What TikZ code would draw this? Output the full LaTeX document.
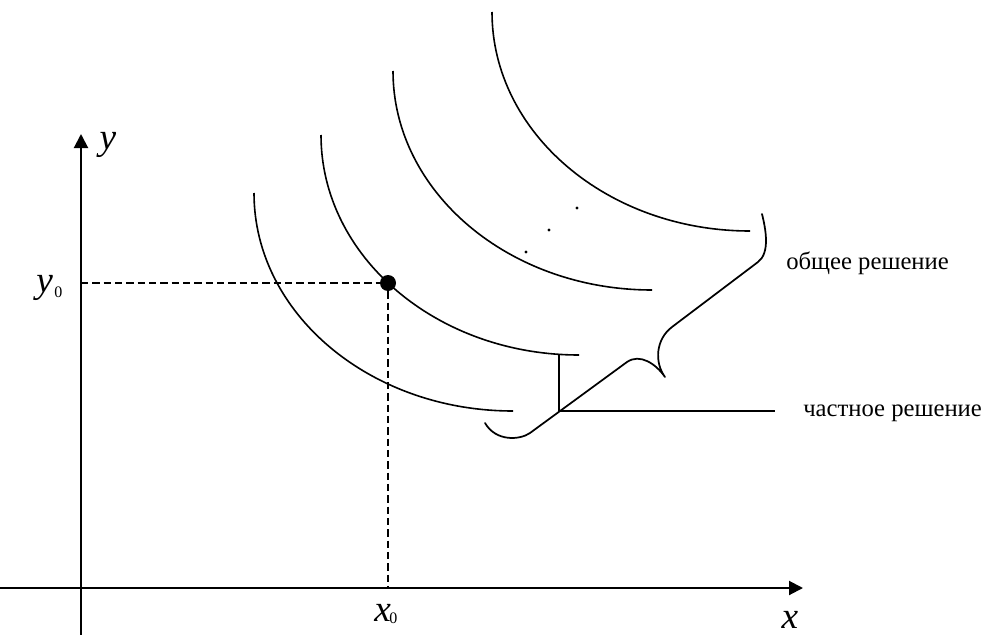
\documentclass[tikz,border=0pt]{standalone}
\usepackage{fontspec}
\setmainfont{Liberation Serif}
\usetikzlibrary{arrows.meta}
\begin{document}
\begin{tikzpicture}[x=0.75pt,y=-0.75pt,
  axis/.style={line width=1.5pt,-{Triangle[length=10.5pt,width=10.5pt]}},
  curve/.style={line width=1.2pt},
  guide/.style={line width=1.2pt,dash pattern=on 5.5pt off 3pt},
  lbl/.style={inner sep=0pt,font=\fontsize{18.5}{22}\selectfont},
  mlbl/.style={inner sep=0pt,font=\fontsize{28}{32}\selectfont\itshape},
  sub/.style={inner sep=0pt,font=\fontsize{12}{14}\selectfont},
  brace/.style={line width=1.3pt,line join=round,line cap=round},
]
\useasboundingbox (0,0) rectangle (982,635);
% axes
\coordinate (yb) at (81,635);
\coordinate (yt) at (81,134);
\coordinate (xl) at (0,588);
\coordinate (xr) at (803,588);
\draw[axis] (yb) -- (yt);
\draw[axis] (xl) -- (xr);
% family of curves
\draw[curve] (254,193) arc[start angle=180,end angle=90,x radius=259,y radius=218];
\draw[curve] (321,135) arc[start angle=180,end angle=90,x radius=258,y radius=220];
\draw[curve] (393,71) arc[start angle=180,end angle=90,x radius=259,y radius=219];
\draw[curve] (492,12) arc[start angle=180,end angle=90,x radius=258,y radius=219];
% ellipsis dots
\fill (526,252) circle[radius=1.6];
\fill (549,230) circle[radius=1.6];
\fill (577,208) circle[radius=1.6];
% point (x0,y0)
\node[circle,fill,inner sep=0pt,minimum size=12pt] (P) at (388,283) {};
\coordinate (y0pt) at (81,283);
\coordinate (x0pt) at (388,588);
\draw[guide] (y0pt) -- (P);
\draw[guide] (P) -- (x0pt);
% leader for particular solution
\coordinate (Tt) at (559,354);
\coordinate (T) at (559,411);
\coordinate (Le) at (775,411);
\draw[curve] (Tt) -- (T) -- (Le);
% brace
\draw[brace] (762,214) .. controls (766,230) and (770,253) .. (758,262)
  -- (672,327) .. controls (656,339) and (654,362) .. (665,377)
  .. controls (656,364) and (640,353) .. (627,362)
  -- (530,433) .. controls (520,440) and (496,442) .. (485,423);
% labels
\node[lbl,anchor=base west] (gen) at (786,269) {общее решение};
\node[lbl,anchor=base west] (part) at (803,416) {частное решение};
\node[mlbl] (ylab) at (108,145) {y};
\node[mlbl,anchor=base] (xlab) at (790,628) {x};
\node[mlbl,anchor=base west] (y0lab) at (36,292) {y};
\node[sub,anchor=base west] (y0sub) at (54,297) {0};
\node[mlbl,anchor=base west] (x0lab) at (374,621) {x};
\node[sub,anchor=base west] (x0sub) at (389,623) {0};
\end{tikzpicture}
\end{document}
